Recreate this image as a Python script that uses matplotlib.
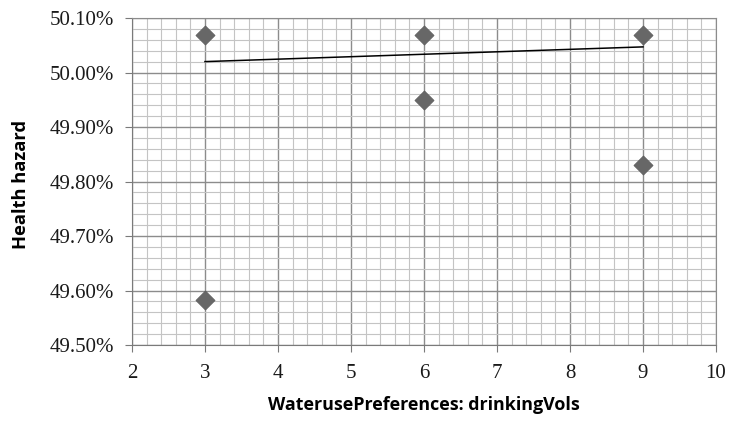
import matplotlib
matplotlib.use("Agg")
import matplotlib.pyplot as plt
from matplotlib.ticker import MultipleLocator, PercentFormatter

# drinking volume preference vs. health hazard share (%)
drinking_vols = [3, 3, 6, 6, 9, 9]
health_hazard = [50.069, 49.583, 50.069, 49.950, 50.069, 49.830]

# linear trendline end points
trend_x = [3, 9]
trend_y = [50.020, 50.047]

fig = plt.figure(figsize=(7.32, 4.36), dpi=100)
ax = fig.add_axes([0.1803, 0.2087, 0.7978, 0.75])

ax.set_xlim(2, 10)
ax.set_ylim(49.5, 50.1)
ax.xaxis.set_major_locator(MultipleLocator(1))
ax.xaxis.set_minor_locator(MultipleLocator(0.2))
ax.yaxis.set_major_locator(MultipleLocator(0.1))
ax.yaxis.set_minor_locator(MultipleLocator(0.02))
ax.yaxis.set_major_formatter(PercentFormatter(100, decimals=2))

ax.grid(which="major", color="#8c8c8c", linewidth=1.0, zorder=0)
ax.grid(which="minor", color="#c4c4c4", linewidth=0.8, zorder=0)
ax.set_axisbelow(True)

for side in ["top", "right"]:
    ax.spines[side].set_color("#8c8c8c")
for side in ["left", "bottom"]:
    ax.spines[side].set_color("#7a7a7a")

ax.tick_params(which="major", direction="out", length=5, color="#7a7a7a")
ax.tick_params(axis="y", pad=8)
ax.tick_params(axis="x", pad=9)
ax.tick_params(which="minor", length=0)
for lbl in ax.get_xticklabels() + ax.get_yticklabels():
    lbl.set_family("Liberation Serif")
    lbl.set_fontsize(15)
    lbl.set_color("#1a1a1a")

ax.plot(trend_x, trend_y, color="black", linewidth=1.1, zorder=3)
ax.scatter(drinking_vols, health_hazard, marker="D", s=95, color="#676767",
           edgecolors="#5a5a5a", linewidths=0.5, zorder=4)

ax.set_xlabel("WaterusePreferences: drinkingVols", fontsize=12.9,
              fontweight="bold", family="Open Sans")
ax.set_ylabel("Health hazard", fontsize=13.2, fontweight="bold",
              family="Open Sans")
ax.xaxis.set_label_coords(0.5, -0.155)
ax.yaxis.set_label_coords(-0.175, 0.49)

fig.savefig("out.png", dpi=100)
